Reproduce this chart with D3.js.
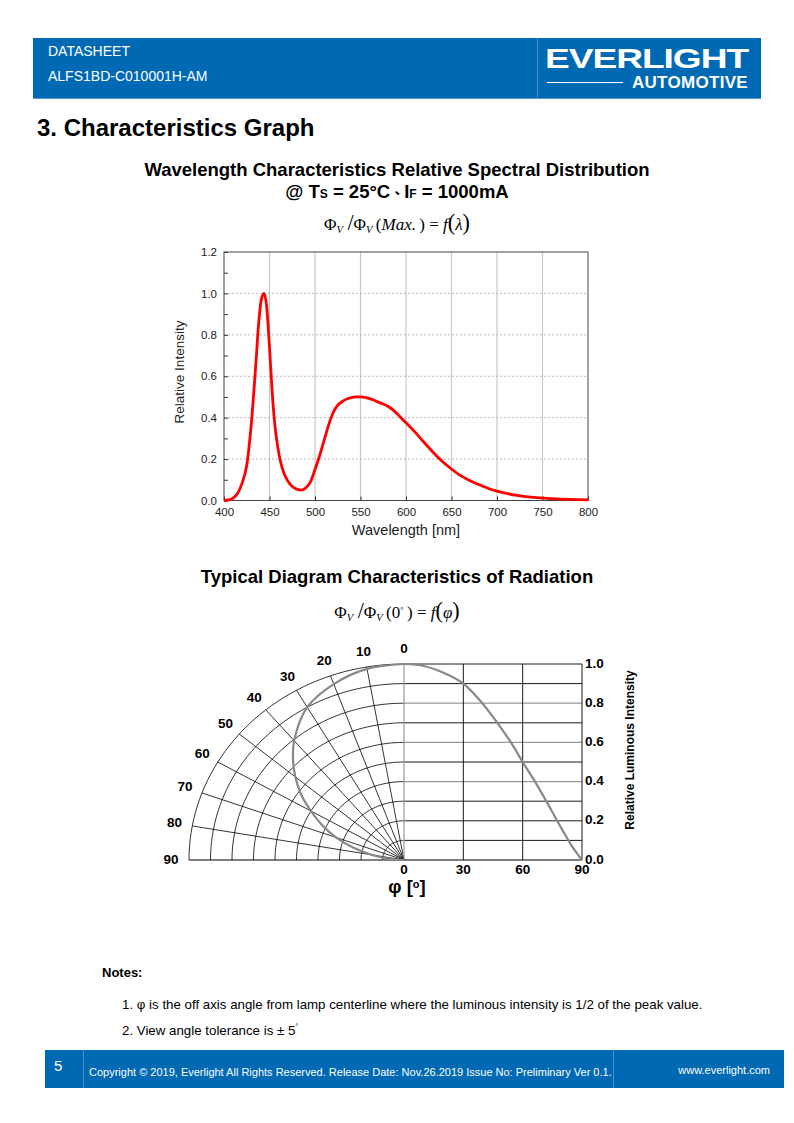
<!DOCTYPE html>
<html>
<head>
<meta charset="utf-8">
<script src="https://cdn.jsdelivr.net/npm/d3@7"></script>
<style>
  body { margin: 0; background: #fff; }
  svg { display: block; font-family: "Liberation Sans", Arial, sans-serif; }
</style>
</head>
<body>
<svg width="794" height="1123"></svg>
<script>
// spectral distribution
const wavelengths = [400, 405, 410, 415, 420, 425, 430, 435, 438, 441, 444, 447, 450, 453, 456, 459, 462, 466, 470, 475,
  480, 485, 490, 495, 500, 505, 510, 515, 520, 525, 530, 535, 540, 545, 550, 555, 560, 565, 570, 575,
  580, 585, 590, 595, 600, 610, 620, 630, 640, 650, 660, 670, 680, 690, 700, 720, 740, 760, 780, 800];
const intensity = [0.0, 0.003, 0.012, 0.035, 0.085, 0.17, 0.37, 0.66, 0.85, 0.97, 1.0, 0.93, 0.74, 0.52, 0.36, 0.26, 0.19, 0.13, 0.095, 0.068,
  0.055, 0.05, 0.062, 0.09, 0.15, 0.215, 0.29, 0.365, 0.425, 0.46, 0.478, 0.49, 0.497, 0.5, 0.5, 0.498, 0.492, 0.484, 0.474, 0.466,
  0.455, 0.44, 0.42, 0.397, 0.375, 0.33, 0.28, 0.232, 0.188, 0.152, 0.12, 0.097, 0.077, 0.059, 0.045, 0.026, 0.015, 0.009, 0.005, 0.003];
const wlTicks = [400, 450, 500, 550, 600, 650, 700, 750, 800];
const relTicks = [0, 0.2, 0.4, 0.6, 0.8, 1.0, 1.2];
const relMinor = [0.1, 0.3, 0.5, 0.7, 0.9, 1.1];

// radiation pattern
const angles = [0, 10, 20, 30, 40, 45, 50, 55, 60, 65, 70, 75, 80, 85, 90];
const luminous = [1.0, 0.99, 0.955, 0.9, 0.795, 0.73, 0.66, 0.585, 0.5, 0.42, 0.335, 0.245, 0.155, 0.07, 0.0];
const polarLabels = [0, 10, 20, 30, 40, 50, 60, 70, 80, 90];
const ringValues = [0.1, 0.2, 0.3, 0.4, 0.5, 0.6, 0.7, 0.8, 0.9, 1.0];
const angleTicks = [0, 30, 60, 90];
const lumTicks = [0, 0.2, 0.4, 0.6, 0.8, 1.0];

const svg = d3.select('svg');
const blue = '#0069b4';

// ---------- header ----------
svg.append('rect').attr('x', 33).attr('y', 38).attr('width', 728).attr('height', 60).attr('fill', blue);
svg.append('line').attr('x1', 33).attr('x2', 761).attr('y1', 98.5).attr('y2', 98.5).attr('stroke', '#5a9bd5');
svg.append('line').attr('x1', 537.5).attr('x2', 537.5).attr('y1', 38).attr('y2', 98).attr('stroke', '#4a8ccc');
svg.append('text').attr('x', 48).attr('y', 56).attr('fill', '#fff').attr('font-size', 14).text('DATASHEET');
svg.append('text').attr('x', 48).attr('y', 81).attr('fill', '#fff').attr('font-size', 14).text('ALFS1BD-C010001H-AM');
svg.append('text').attr('x', 0).attr('y', 0).attr('fill', '#fff').attr('font-size', 29).attr('font-weight', 'bold')
  .attr('transform', 'translate(545,68) scale(1.28,0.95)').attr('letter-spacing', -0.8).text('EVERLIGHT');
svg.append('line').attr('x1', 547).attr('x2', 623).attr('y1', 82.5).attr('y2', 82.5).attr('stroke', '#fff').attr('stroke-width', 1);
svg.append('text').attr('x', 748).attr('y', 88).attr('text-anchor', 'end').attr('fill', '#fff')
  .attr('font-size', 17).attr('font-weight', 'bold').attr('letter-spacing', 0.3).text('AUTOMOTIVE');

svg.append('text').attr('x', 37).attr('y', 136).attr('font-size', 24).attr('font-weight', 'bold').text('3. Characteristics Graph');

// ---------- spectral chart ----------
svg.append('text').attr('x', 397).attr('y', 176).attr('text-anchor', 'middle').attr('font-size', 18.5).attr('font-weight', 'bold')
  .text('Wavelength Characteristics Relative Spectral Distribution');
const t2 = svg.append('text').attr('x', 397).attr('y', 198).attr('text-anchor', 'middle').attr('font-size', 18.5).attr('font-weight', 'bold');
t2.append('tspan').text('@ T');
t2.append('tspan').attr('font-size', 12).text('S');
t2.append('tspan').text(' = 25°C');
t2.append('tspan').attr('font-family', '"Noto Sans CJK TC"').attr('font-size', 14).text('、');
t2.append('tspan').text('I');
t2.append('tspan').attr('font-size', 12).text('F');
t2.append('tspan').text(' = 1000mA');

function formula(y, fs, parts) {
  const t = svg.append('text').attr('x', 397).attr('y', y).attr('text-anchor', 'middle')
    .attr('font-family', '"Liberation Serif", serif').attr('font-size', fs);
  parts.forEach(p => {
    const s = t.append('tspan').text(p[0]);
    if (p[1]) s.attr('font-style', 'italic');
    s.attr('font-size', (p[2] || 1) * fs);
    if (p[3]) s.attr('dy', p[3]);
  });
}
formula(230, 17, [['Φ'], ['V', true, 0.62, 3], ['\u2009/', false, 1.3, -3], ['Φ'], ['V', true, 0.62, 3], ['\u2009(', false, 1, -3], ['Max.', true], ['\u2009) = '], ['f', true], ['(', false, 1.3], ['λ', true], [')', false, 1.3]]);

const m = { left: 224, right: 588, top: 252, bottom: 500.5 };
const x = d3.scaleLinear().domain([400, 800]).range([m.left, m.right]);
const y = d3.scaleLinear().domain([0, 1.2]).range([m.bottom, m.top]);

const spec = svg.append('g');
spec.selectAll('.vg').data(wlTicks.slice(1, -1)).join('line')
  .attr('x1', d => x(d)).attr('x2', d => x(d)).attr('y1', m.top).attr('y2', m.bottom)
  .attr('stroke', '#c8c8c8').attr('stroke-width', 1.2);
spec.selectAll('.hg').data(relTicks.slice(1, -1)).join('line')
  .attr('x1', m.left).attr('x2', m.right).attr('y1', d => y(d)).attr('y2', d => y(d))
  .attr('stroke', '#aaa').attr('stroke-dasharray', '2,2').attr('stroke-width', 0.8);

// axes with inward ticks
spec.append('g').attr('transform', `translate(${m.left},0)`)
  .call(d3.axisLeft(y).tickValues(relTicks).tickFormat(d3.format('.1f')).tickSizeInner(-4).tickSizeOuter(0).tickPadding(7));
spec.append('g').attr('transform', `translate(${m.left},0)`)
  .call(d3.axisLeft(y).tickValues(relMinor).tickFormat('').tickSizeInner(-4).tickSizeOuter(0));
spec.append('g').attr('transform', `translate(0,${m.bottom})`)
  .call(d3.axisBottom(x).tickValues(wlTicks).tickSizeInner(-4).tickSizeOuter(0).tickPadding(7));
spec.selectAll('.domain').attr('stroke', 'none');
spec.selectAll('.tick line').attr('stroke', '#333');
spec.selectAll('.tick text').attr('font-size', 11.5).attr('fill', '#222').attr('font-family', '"Liberation Sans", Arial, sans-serif');
spec.append('rect').attr('x', m.left).attr('y', m.top).attr('width', m.right - m.left).attr('height', m.bottom - m.top)
  .attr('fill', 'none').attr('stroke', '#444').attr('stroke-width', 1);

spec.append('path').datum(wavelengths.map((w, i) => [w, intensity[i]]))
  .attr('d', d3.line().x(d => x(d[0])).y(d => y(d[1])).curve(d3.curveMonotoneX))
  .attr('fill', 'none').attr('stroke', '#ff0000').attr('stroke-width', 2.8);

svg.append('text').attr('x', 406).attr('y', 535).attr('text-anchor', 'middle').attr('font-size', 14.5).attr('fill', '#222').text('Wavelength [nm]');
svg.append('text').attr('transform', 'translate(184,372) rotate(-90)').attr('text-anchor', 'middle')
  .attr('font-size', 13.5).attr('fill', '#222').text('Relative Intensity');

// ---------- radiation chart ----------
svg.append('text').attr('x', 397).attr('y', 583).attr('text-anchor', 'middle').attr('font-size', 18.5).attr('font-weight', 'bold')
  .text('Typical Diagram Characteristics of Radiation');
formula(618, 17, [['Φ'], ['V', true, 0.62, 3], ['\u2009/', false, 1.3, -3], ['Φ'], ['V', true, 0.62, 3], ['\u2009(0', false, 1, -3], ['°', false, 0.5, -5], ['\u2009) = ', false, 1, 5], ['f', true], ['(', false, 1.3], ['φ', true], [')', false, 1.3]]);

const cx = 404, cy = 860, rx = 215, ry = 196;
const rX = d3.scaleLinear().domain([0, 1]).range([0, rx]);
const rY = d3.scaleLinear().domain([0, 1]).range([0, ry]);
const rad = d => d * Math.PI / 180;
const px = (a, r) => cx - rX(r) * Math.sin(rad(a));
const py = (a, r) => cy - rY(r) * Math.cos(rad(a));
const ax = d3.scaleLinear().domain([0, 90]).range([cx, 582]);
const ly = d3.scaleLinear().domain([0, 1]).range([cy, cy - ry]);

const pol = svg.append('g');
const arcLine = d3.line().x(d => d[0]).y(d => d[1]);
ringValues.forEach(r => {
  const pts = d3.range(0, 91, 2).map(a => [px(a, r), py(a, r)]);
  pol.append('path').attr('d', arcLine(pts)).attr('fill', 'none').attr('stroke', '#000').attr('stroke-width', 0.8);
});
pol.selectAll('.spoke').data(polarLabels.slice(1, -1)).join('line')
  .attr('x1', cx).attr('y1', cy).attr('x2', d => px(d, 1)).attr('y2', d => py(d, 1))
  .attr('stroke', '#000').attr('stroke-width', 0.8);

// right rectangular grid
const greyRows = [0.4, 0.6, 0.8];
pol.selectAll('.hl').data(ringValues).join('line')
  .attr('x1', cx).attr('x2', ax(90)).attr('y1', d => ly(d)).attr('y2', d => ly(d))
  .attr('stroke', d => greyRows.includes(d) ? '#999' : '#000').attr('stroke-width', d => greyRows.includes(d) ? 1.3 : 0.9);
pol.selectAll('.vl').data(angleTicks.slice(1)).join('line')
  .attr('x1', d => ax(d)).attr('x2', d => ax(d)).attr('y1', ly(0)).attr('y2', ly(1))
  .attr('stroke', '#000').attr('stroke-width', 0.9);
pol.append('line').attr('x1', cx).attr('x2', cx).attr('y1', cy).attr('y2', ly(1)).attr('stroke', '#999').attr('stroke-width', 1.2);
pol.append('line').attr('x1', cx - rx).attr('x2', ax(90)).attr('y1', cy).attr('y2', cy).attr('stroke', '#000').attr('stroke-width', 1.2);

// curves
pol.append('path').datum(angles.map((a, i) => [a, luminous[i]]))
  .attr('d', d3.line().x(d => px(d[0], d[1])).y(d => py(d[0], d[1])).curve(d3.curveCatmullRom))
  .attr('fill', 'none').attr('stroke', '#888').attr('stroke-width', 2.2);
pol.append('path').datum(angles.map((a, i) => [a, luminous[i]]))
  .attr('d', d3.line().x(d => ax(d[0])).y(d => ly(d[1])).curve(d3.curveCatmullRom))
  .attr('fill', 'none').attr('stroke', '#888').attr('stroke-width', 2.2);

// labels
pol.selectAll('.pl').data(polarLabels).join('text')
  .attr('x', d => cx - (rx + 18) * Math.sin(rad(d)))
  .attr('y', d => cy - (ry + 15) * Math.cos(rad(d)))
  .attr('text-anchor', 'middle').attr('dominant-baseline', 'middle')
  .attr('font-size', 13.5).attr('font-weight', 'bold').text(d => d);
pol.selectAll('.bl').data(angleTicks).join('text')
  .attr('x', d => ax(d)).attr('y', cy + 14).attr('text-anchor', 'middle')
  .attr('font-size', 13.5).attr('font-weight', 'bold').text(d => d);
pol.selectAll('.rl').data(lumTicks).join('text')
  .attr('x', ax(90) + 3).attr('y', d => ly(d)).attr('dominant-baseline', 'middle')
  .attr('font-size', 13.5).attr('font-weight', 'bold').text(d3.format('.1f'));
svg.append('text').attr('transform', 'translate(634,750) rotate(-90)').attr('text-anchor', 'middle')
  .attr('font-size', 12).attr('font-weight', 'bold').text('Relative Luminous Intensity');
const phi = svg.append('text').attr('x', 407).attr('y', 893).attr('text-anchor', 'middle').attr('font-size', 18.5).attr('font-weight', 'bold');
phi.append('tspan').text('φ [');
phi.append('tspan').attr('font-size', 11).attr('dy', -5).text('o');
phi.append('tspan').attr('dy', 5).text(']');

// ---------- notes ----------
svg.append('text').attr('x', 102).attr('y', 977).attr('font-size', 13).attr('font-weight', 'bold').text('Notes:');
svg.append('text').attr('x', 122).attr('y', 1009).attr('font-size', 13.3)
  .text('1. φ is the off axis angle from lamp centerline where the luminous intensity is 1/2 of the peak value.');
const n2 = svg.append('text').attr('x', 122).attr('y', 1035).attr('font-size', 13.3).text('2. View angle tolerance is ± 5');
n2.append('tspan').attr('font-size', 7).attr('dy', -6).text('°');

// ---------- footer ----------
svg.append('rect').attr('x', 45).attr('y', 1050).attr('width', 739).attr('height', 38).attr('fill', blue);
svg.append('line').attr('x1', 83.5).attr('x2', 83.5).attr('y1', 1050).attr('y2', 1088).attr('stroke', '#4a8ccc');
svg.append('line').attr('x1', 613.5).attr('x2', 613.5).attr('y1', 1050).attr('y2', 1088).attr('stroke', '#4a8ccc');
svg.append('text').attr('x', 54).attr('y', 1071).attr('fill', '#fff').attr('font-size', 15).text('5');
svg.append('text').attr('x', 89).attr('y', 1076).attr('fill', '#fff').attr('font-size', 11)
  .text('Copyright © 2019, Everlight All Rights Reserved. Release Date: Nov.26.2019 Issue No: Preliminary Ver 0.1.');
svg.append('text').attr('x', 770).attr('y', 1074).attr('text-anchor', 'end').attr('fill', '#fff').attr('font-size', 11)
  .text('www.everlight.com');
</script>
</body>
</html>
